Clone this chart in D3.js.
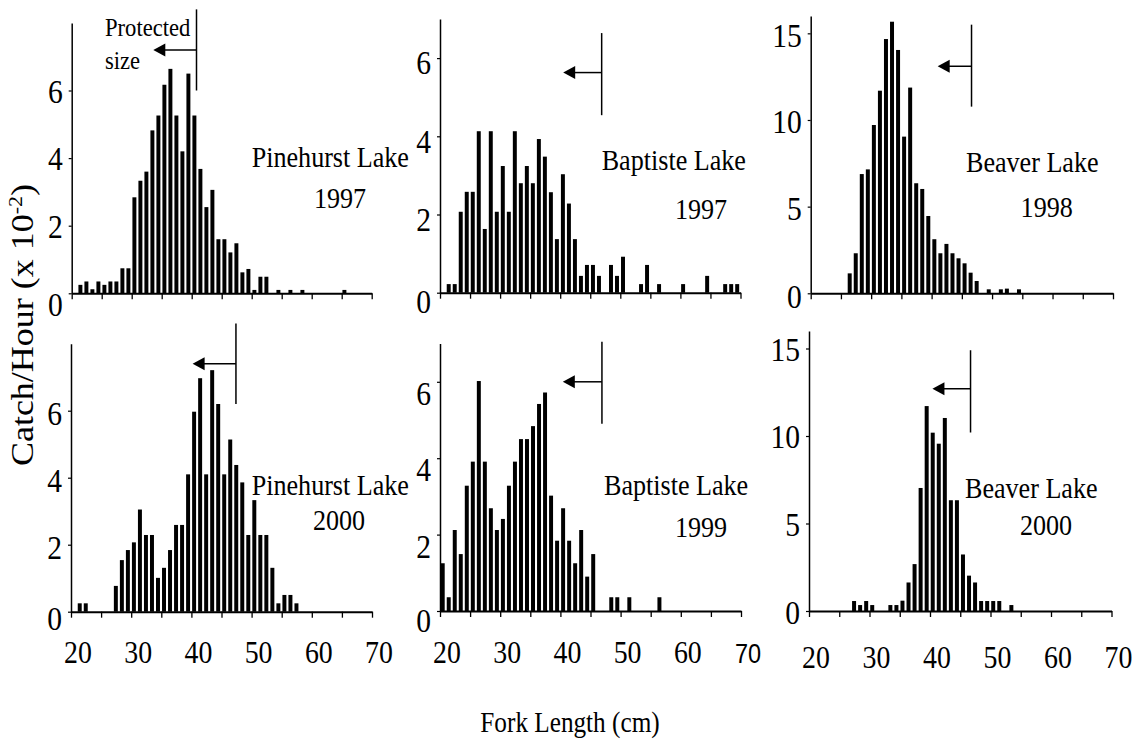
<!DOCTYPE html>
<html>
<head>
<meta charset="utf-8">
<script src="https://cdn.jsdelivr.net/npm/d3@7"></script>
<style>
  html, body { margin: 0; padding: 0; background: #fff; }
  svg { display: block; }
  text { font-family: "Liberation Serif", "Times New Roman", serif; fill: #000; }
</style>
</head>
<body>
<svg id="chart" width="1133" height="739"></svg>
<script>
// Catch per hour (x 10^-2) by 1-cm fork-length class (cm, lower bound of class)
const pinehurst1997Length = [21,22,23,24,25,26,27,28,29,30,31,32,33,34,35,36,37,38,39,40,41,42,43,44,45,46,47,48,49,50,51,52,54,56,58,65];
const pinehurst1997Catch  = [0.25,0.35,0.12,0.35,0.25,0.35,0.35,0.74,0.74,2.84,3.33,3.6,4.82,5.26,6.17,6.64,5.26,4.2,6.5,5.26,3.68,2.55,3.06,1.6,1.6,1.21,1.48,0.62,0.72,0.1,0.49,0.49,0.1,0.1,0.1,0.1];

const baptiste1997Length = [21,22,23,24,25,26,27,28,29,30,31,32,33,34,35,36,37,38,39,40,41,42,43,44,45,46,48,49,50,53,54,56,60,64,67,68,69];
const baptiste1997Catch  = [0.22,0.22,2.07,2.58,2.58,4.13,1.63,4.13,2.07,3.24,2.07,4.13,2.8,3.24,2.8,3.93,3.48,2.57,1.37,3.03,2.28,1.37,0.43,0.71,0.71,0.43,0.71,0.43,0.92,0.22,0.71,0.22,0.22,0.43,0.22,0.22,0.22];

const beaver1998Length = [26,27,28,29,30,31,32,33,34,35,36,37,38,39,40,41,42,43,44,45,46,47,49,51,52,54];
const beaver1998Catch  = [1.15,2.31,6.88,7.15,9.71,11.69,14.67,15.67,14.04,9.04,11.87,6.35,6.02,4.46,3.12,2.31,2.85,2.31,2.02,1.73,1.19,0.71,0.23,0.23,0.27,0.23];

const pinehurst2000Length = [21,22,27,28,29,30,31,32,33,34,35,36,37,38,39,40,41,42,43,44,45,46,47,48,49,50,51,52,53,54,55,56,57];
const pinehurst2000Catch  = [0.25,0.25,0.77,1.54,1.84,2.07,3.05,2.29,2.29,1.01,1.31,1.84,2.59,2.59,4.1,5.97,6.97,4.1,7.21,6.2,4.1,5.14,4.38,3.86,2.29,3.33,2.29,2.29,1.31,0.25,0.5,0.5,0.25];

const baptiste1999Length = [20,21,22,23,24,25,26,27,28,29,30,31,32,33,34,35,36,37,38,39,40,41,42,43,44,45,48,49,51,56];
const baptiste1999Catch  = [1.25,0.36,2.12,1.49,3.28,3.91,6.02,3.91,2.69,2.12,2.41,3.28,3.91,4.5,4.5,4.84,5.42,5.72,3.02,1.84,2.69,1.84,1.25,2.12,0.9,1.49,0.36,0.36,0.36,0.36];

const beaver2000Length = [27,28,29,30,33,34,35,36,37,38,39,40,41,42,43,44,45,46,47,48,49,50,51,53];
const beaver2000Catch  = [0.57,0.34,0.57,0.34,0.34,0.34,0.59,1.63,2.68,7.03,11.71,10.19,9.56,11.03,6.33,6.33,3.23,2.02,1.63,0.57,0.57,0.57,0.57,0.34];

// Lake names, survey years and protected-size limits (cm)
const lakeNames   = ["Pinehurst Lake", "Baptiste Lake", "Beaver Lake", "Pinehurst Lake", "Baptiste Lake", "Beaver Lake"];
const surveyYears = ["1997", "1997", "1998", "2000", "1999", "2000"];
const protectedLimit = [40.8, 46.9, 46.6, 47.4, 46.9, 46.7];

// Axis ticks
const xTickValues = [20, 25, 30, 35, 40, 45, 50, 55, 60, 65, 70];
const xTickLabels = [20, 30, 40, 50, 60, 70];
const yTicksSmall = [0, 2, 4, 6];
const yTicksLarge = [0, 5, 10, 15];

const series = [
  { len: pinehurst1997Length, val: pinehurst1997Catch },
  { len: baptiste1997Length,  val: baptiste1997Catch },
  { len: beaver1998Length,    val: beaver1998Catch },
  { len: pinehurst2000Length, val: pinehurst2000Catch },
  { len: baptiste1999Length,  val: baptiste1999Catch },
  { len: beaver2000Length,    val: beaver2000Catch }
];

// Panel geometry: x of the 20/70 cm ticks, baseline and top of the y axis
const layout = [
  { x0: 71.7, x1: 371.7,  y0: 293.3, y1: 22.9,  yMax: 8,  ticks: yTicksSmall, tickDy: 1,  zeroDy: 11, labelY: 663,
    name: [251.7, 166.7], year: [340, 207.7], mark: { top: 8.4, bottom: 6.0, level: 7.2, tip: 33.6 } },
  { x0: 440,  x1: 740.5,  y0: 292.7, y1: 19,    yMax: 7,  ticks: yTicksSmall, tickDy: 5,  zeroDy: 9, labelY: 663,
    name: [601.7, 170], year: [701, 219], mark: { top: 6.64, bottom: 4.54, level: 5.63, tip: 40.5 } },
  { x0: 810.7, x1: 1113,  y0: 293.3, y1: 16,    yMax: 16, ticks: yTicksLarge, tickDy: 2,  zeroDy: 3, labelY: 663,
    name: [966, 171.7], year: [1046.7, 216.7], mark: { top: 15.5, bottom: 10.77, level: 13.1, tip: 41 } },
  { x0: 71,   x1: 372,    y0: 611.7, y1: 343.7, yMax: 8,  ticks: yTicksSmall, tickDy: 3,  zeroDy: 7, labelY: 663,
    name: [251.7, 495], year: [339, 530], mark: { top: 8.6, bottom: 6.2, level: 7.4, tip: 40.2 } },
  { x0: 440,  x1: 741,    y0: 611,   y1: 343.6, yMax: 7,  ticks: yTicksSmall, tickDy: 12, zeroDy: 10, labelY: 663,
    name: [604, 495], year: [701, 536.7], mark: { top: 7.05, bottom: 4.9, level: 6.0, tip: 40.4 } },
  { x0: 809,  x1: 1111.5, y0: 611,   y1: 331,   yMax: 16, ticks: yTicksLarge, tickDy: 1,  zeroDy: 2, labelY: 668,
    name: [965, 498.3], year: [1046, 535], mark: { top: 14.9, bottom: 10.2, level: 12.7, tip: 40.4 } }
];

const SX = 0.87; // horizontal squeeze applied to all lettering
const svg = d3.select("#chart");

function label(parent, x, y, str, size, anchor) {
  return parent.append("text")
    .attr("transform", `translate(${x},${y}) scale(${SX},1)`)
    .attr("text-anchor", anchor || "start")
    .style("font-size", size + "px")
    .text(str);
}

layout.forEach((L, i) => {
  const g = svg.append("g");
  const xs = d3.scaleLinear().domain([20, 70]).range([L.x0, L.x1]);
  const ys = d3.scaleLinear().domain([0, L.yMax]).range([L.y0, L.y1]);
  const s = series[i];
  const bars = s.len.map((d, k) => ({ len: d, val: s.val[k] }));

  // bars
  g.selectAll("rect.bar").data(bars).join("rect")
    .attr("class", "bar")
    .attr("x", d => xs(d.len + 0.12))
    .attr("width", d => xs(d.len + 0.78) - xs(d.len + 0.12))
    .attr("y", d => ys(d.val))
    .attr("height", d => ys(0) - ys(d.val))
    .attr("fill", "#000");

  // x axis with 5-cm ticks
  const xAxis = g.append("g")
    .attr("transform", `translate(0,${L.y0})`)
    .call(d3.axisBottom(xs).tickValues(xTickValues).tickSize(6).tickSizeOuter(0).tickFormat(""));
  xAxis.select(".domain").attr("stroke", "#000").attr("stroke-width", 2);
  xAxis.selectAll(".tick line").attr("stroke", "#000").attr("stroke-width", 1.3);

  // y axis
  const yAxis = g.append("g")
    .attr("transform", `translate(${L.x0},0)`)
    .call(d3.axisLeft(ys).tickValues(L.ticks).tickSize(3).tickSizeOuter(0).tickFormat(""));
  yAxis.select(".domain").attr("stroke", "#000").attr("stroke-width", 1.5);
  yAxis.selectAll(".tick line").attr("stroke", "#000").attr("stroke-width", 1.2);

  L.ticks.forEach(t => {
    const dy = t === 0 ? L.zeroDy : L.tickDy;
    label(g, L.x0 - 9, ys(t) + dy, String(t), 34, "end")
      .attr("dominant-baseline", "central");
  });

  // bottom row carries the length labels
  if (i >= 3) {
    xTickLabels.forEach(t => {
      const odd = (i === 4 && t === 70);
      const tx = label(g, xs(t) + 7, L.labelY, String(t), odd ? 27 : 32, "middle");
      if (odd) tx.style("font-family", "'Liberation Sans', Arial, sans-serif");
    });
  }

  // lake / year labels
  label(g, L.name[0], L.name[1], lakeNames[i], 30, "start");
  label(g, L.year[0], L.year[1], surveyYears[i], 30, "middle");

  // protected-size marker
  const m = L.mark;
  const lx = xs(protectedLimit[i]);
  g.append("line")
    .attr("x1", lx).attr("x2", lx)
    .attr("y1", ys(m.top)).attr("y2", ys(m.bottom))
    .attr("stroke", "#000").attr("stroke-width", 1.5);
  const ay = ys(m.level), tipX = xs(m.tip);
  g.append("line")
    .attr("x1", lx).attr("x2", tipX + 10)
    .attr("y1", ay).attr("y2", ay)
    .attr("stroke", "#000").attr("stroke-width", 1.5);
  g.append("path")
    .attr("d", `M${tipX},${ay} L${tipX + 12},${ay - 6.5} L${tipX + 12},${ay + 6.5} Z`)
    .attr("fill", "#000");

  if (i === 0) {
    label(g, 105, 36, "Protected", 26, "start");
    label(g, 105, 69, "size", 26, "start");
  }
});

// axis titles
const yTitle = svg.append("text")
  .attr("transform", `translate(33,325) rotate(-90) scale(1,${SX})`)
  .attr("text-anchor", "middle")
  .style("font-size", "36px");
yTitle.append("tspan").text("Catch/Hour (x 10");
yTitle.append("tspan").attr("dy", -13).style("font-size", "22px").text("-2");
yTitle.append("tspan").attr("dy", 13).text(")");

label(svg, 570, 731.7, "Fork Length (cm)", 29, "middle");
</script>
</body>
</html>
